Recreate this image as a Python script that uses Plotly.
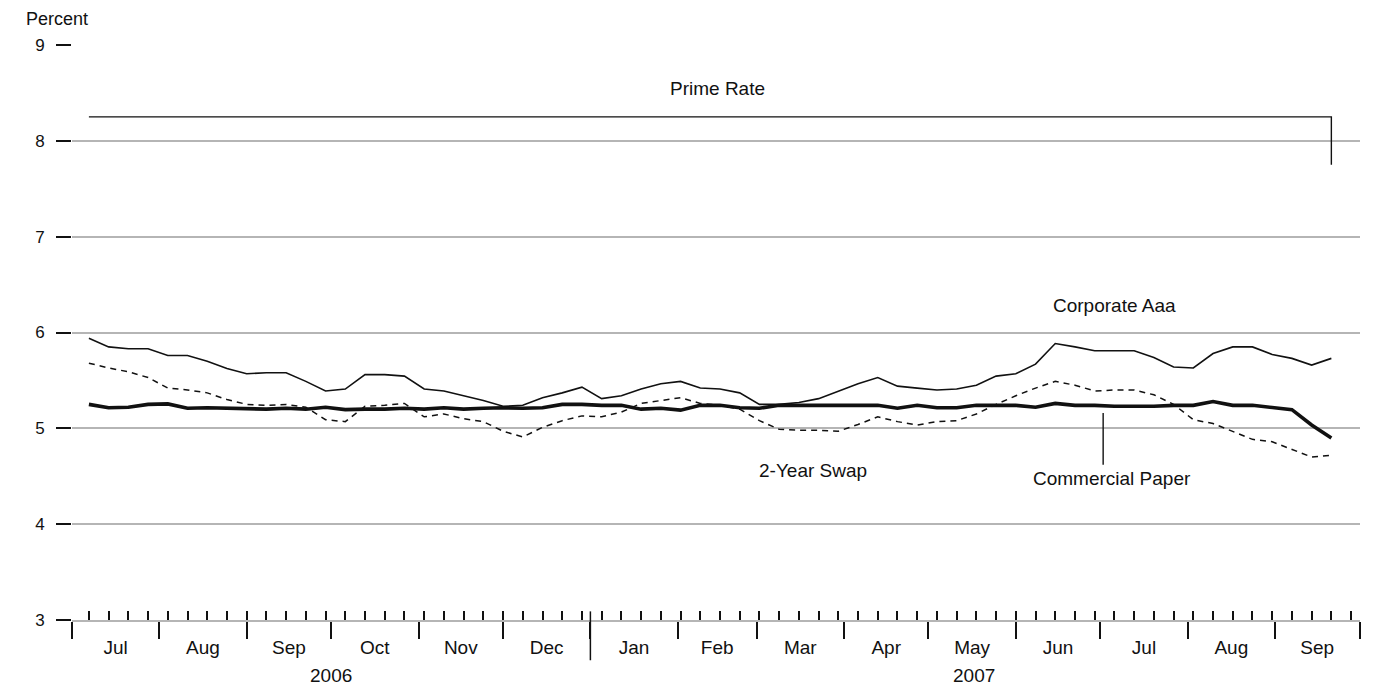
import pandas as pd
import plotly.graph_objects as go

# Weekly (Friday) observations, Jul 7 2006 - Sep 21 2007
dates = pd.date_range("2006-07-07", "2007-09-21", freq="7D")

prime_rate = [8.25] * 63 + [7.75]

corporate_aaa = [
    5.94, 5.85, 5.83, 5.83, 5.76, 5.76, 5.70, 5.625, 5.57, 5.58,
    5.58, 5.49, 5.39, 5.41, 5.56, 5.56, 5.545, 5.41, 5.39, 5.34,
    5.29, 5.23, 5.24, 5.32, 5.37, 5.43, 5.31, 5.34, 5.41, 5.465,
    5.49, 5.42, 5.41, 5.37, 5.25, 5.25, 5.27, 5.31, 5.39, 5.465,
    5.53, 5.44, 5.42, 5.40, 5.41, 5.45, 5.545, 5.57, 5.67, 5.885,
    5.85, 5.81, 5.81, 5.81, 5.74, 5.64, 5.63, 5.78, 5.85, 5.85,
    5.77, 5.73, 5.66, 5.73,
]

two_year_swap = [
    5.68, 5.63, 5.59, 5.53, 5.42, 5.40, 5.37, 5.30, 5.25, 5.24,
    5.25, 5.22, 5.09, 5.07, 5.23, 5.24, 5.26, 5.12, 5.15, 5.10,
    5.07, 4.97, 4.91, 5.01, 5.08, 5.13, 5.12, 5.17, 5.26, 5.29,
    5.32, 5.26, 5.24, 5.20, 5.08, 4.99, 4.98, 4.98, 4.97, 5.04,
    5.12, 5.07, 5.035, 5.07, 5.08, 5.15, 5.25, 5.34, 5.42, 5.49,
    5.45, 5.39, 5.40, 5.40, 5.35, 5.25, 5.09, 5.05, 4.965, 4.885,
    4.86, 4.78, 4.70, 4.72,
]

commercial_paper = [
    5.25, 5.215, 5.22, 5.25, 5.255, 5.21, 5.215, 5.21, 5.20, 5.20,
    5.21, 5.20, 5.22, 5.195, 5.20, 5.20, 5.21, 5.20, 5.215, 5.20,
    5.21, 5.215, 5.21, 5.215, 5.25, 5.25, 5.24, 5.24, 5.20, 5.21,
    5.19, 5.24, 5.24, 5.215, 5.21, 5.24, 5.24, 5.24, 5.24, 5.24,
    5.24, 5.21, 5.24, 5.215, 5.215, 5.24, 5.24, 5.24, 5.22, 5.26,
    5.24, 5.24, 5.23, 5.23, 5.23, 5.24, 5.24, 5.28, 5.24, 5.24,
    5.215, 5.195, 5.035, 4.90,
]

y_ticks = [3, 4, 5, 6, 7, 8, 9]

FONT = "Liberation Sans, Arial, sans-serif"
INK = "#111111"
GRID = "#b5b5b5"

fig = go.Figure()

fig.add_trace(go.Scatter(x=dates, y=prime_rate, mode="lines", line_shape="hv",
                         line=dict(color=INK, width=1.4), name="Prime Rate"))
fig.add_trace(go.Scatter(x=dates, y=corporate_aaa, mode="lines",
                         line=dict(color=INK, width=1.6), name="Corporate Aaa"))
fig.add_trace(go.Scatter(x=dates, y=two_year_swap, mode="lines",
                         line=dict(color=INK, width=1.5, dash="6px,5px"), name="2-Year Swap"))
fig.add_trace(go.Scatter(x=dates, y=commercial_paper, mode="lines",
                         line=dict(color=INK, width=3.6), name="Commercial Paper"))

# page body adds an 8px offset: compensate in the figure size/margins
fig.update_layout(
    width=1374, height=681,
    margin=dict(l=64, r=22, t=37, b=69),
    paper_bgcolor="white", plot_bgcolor="white",
    showlegend=False,
    font=dict(family=FONT, size=19, color=INK),
)

fig.update_xaxes(
    type="date",
    range=["2006-07-01", "2007-10-01 04:00"],
    tick0="2006-07-01", dtick="M1", tickformat="%b",
    ticklabelmode="period",
    ticks="outside", ticklen=17, tickwidth=1.5, tickcolor=INK,
    tickfont=dict(size=19, family=FONT),
    ticklabelstandoff=-8,
    showgrid=False, zeroline=False,
    showline=True, linecolor=GRID, linewidth=1.5,
    minor=dict(tick0="2006-07-07", dtick=7 * 86400000, ticks="inside",
               ticklen=9, tickwidth=1.5, tickcolor=INK, showgrid=False),
)

fig.update_yaxes(
    range=[3, 9],
    tickvals=y_ticks,
    ticks="outside", ticklen=15, tickwidth=2.2, tickcolor=INK,
    tickfont=dict(size=17, family=FONT),
    ticklabelstandoff=8,
    showgrid=True, gridcolor=GRID, gridwidth=1.5,
    zeroline=False, showline=False,
)

# Year separator tick at Jan 2007
fig.add_shape(type="line", xref="x", yref="paper",
              x0="2007-01-01", x1="2007-01-01", y0=0.015, y1=-0.07,
              line=dict(color=INK, width=1.5))

# Leader line for Commercial Paper label
fig.add_shape(type="line", xref="x", yref="y",
              x0="2007-07-02", x1="2007-07-02", y0=5.16, y1=4.62,
              line=dict(color=INK, width=1.4))

ann = dict(showarrow=False, font=dict(size=19, family=FONT, color=INK))
fig.add_annotation(text="Percent", xref="paper", yref="paper",
                   x=-0.037, y=1.046, xanchor="left", yanchor="middle",
                   showarrow=False, font=dict(size=18, family=FONT, color=INK))
fig.add_annotation(text="2006", xref="x", yref="paper", x="2006-10-01",
                   y=-0.097, xanchor="center", yanchor="middle", **ann)
fig.add_annotation(text="2007", xref="x", yref="paper", x="2007-05-17",
                   y=-0.097, xanchor="center", yanchor="middle", **ann)
fig.add_annotation(text="Prime Rate", xref="x", yref="y", x="2007-02-15",
                   y=8.55, xanchor="center", yanchor="middle", **ann)
fig.add_annotation(text="Corporate Aaa", xref="x", yref="y", x="2007-07-06",
                   y=6.28, xanchor="center", yanchor="middle", **ann)
fig.add_annotation(text="2-Year Swap", xref="x", yref="y", x="2007-03-21",
                   y=4.565, xanchor="center", yanchor="middle", **ann)
fig.add_annotation(text="Commercial Paper", xref="x", yref="y", x="2007-07-05",
                   y=4.48, xanchor="center", yanchor="middle", **ann)

fig.write_html("out.html")
